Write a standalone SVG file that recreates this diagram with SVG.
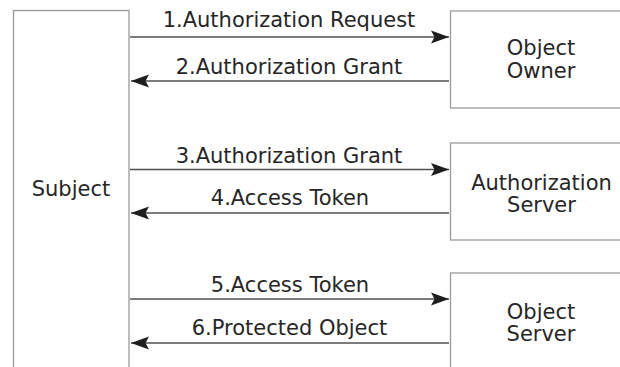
<svg xmlns="http://www.w3.org/2000/svg" width="620" height="367" viewBox="0 0 620 367">
  <style>
    .box { fill: #ffffff; stroke: #9a9a9a; stroke-width: 1.3; }
    .label { font-family: "DejaVu Sans", "Liberation Sans", sans-serif; font-size: 21px; fill: #262626; text-anchor: middle; }
    .msg { stroke: #505050; stroke-width: 1.6; fill: none; }
  </style>
  <defs>
    <marker id="head" viewBox="-19 -7 20 14" refX="0" refY="0" markerWidth="20" markerHeight="14" markerUnits="userSpaceOnUse" orient="auto">
      <path d="M0,0 L-18,-6.5 L-14.5,0 L-18,6.5 Z" fill="#1e1e1e"/>
    </marker>
  </defs>
  <rect width="620" height="367" fill="#ffffff"/>

  <g id="subject">
    <rect class="box" x="13.5" y="10.5" width="115.5" height="380"/>
    <text class="label" x="71" y="196">Subject</text>
  </g>

  <g id="object-owner">
    <rect class="box" x="450.5" y="11" width="200" height="97"/>
    <text class="label" x="541" y="55">Object</text>
    <text class="label" x="541" y="77.5">Owner</text>
  </g>

  <g id="authorization-server">
    <rect class="box" x="450.5" y="143" width="200" height="97"/>
    <text class="label" x="541.5" y="190">Authorization</text>
    <text class="label" x="541.5" y="211.5">Server</text>
  </g>

  <g id="object-server">
    <rect class="box" x="450.5" y="273" width="200" height="120"/>
    <text class="label" x="541" y="318.5">Object</text>
    <text class="label" x="541" y="340.5">Server</text>
  </g>

  <g id="connectors">
    <line class="msg" x1="130" y1="37" x2="449" y2="37" marker-end="url(#head)"/>
    <text class="label" x="289" y="26.5">1.Authorization Request</text>

    <line class="msg" x1="449" y1="81" x2="131" y2="81" marker-end="url(#head)"/>
    <text class="label" x="289" y="74">2.Authorization Grant</text>

    <line class="msg" x1="130" y1="169.5" x2="449" y2="169.5" marker-end="url(#head)"/>
    <text class="label" x="289" y="162.5">3.Authorization Grant</text>

    <line class="msg" x1="449" y1="213" x2="131" y2="213" marker-end="url(#head)"/>
    <text class="label" x="290" y="205">4.Access Token</text>

    <line class="msg" x1="130" y1="299" x2="449" y2="299" marker-end="url(#head)"/>
    <text class="label" x="290" y="291.5">5.Access Token</text>

    <line class="msg" x1="449" y1="343" x2="131" y2="343" marker-end="url(#head)"/>
    <text class="label" x="289.5" y="335">6.Protected Object</text>
  </g>
</svg>
